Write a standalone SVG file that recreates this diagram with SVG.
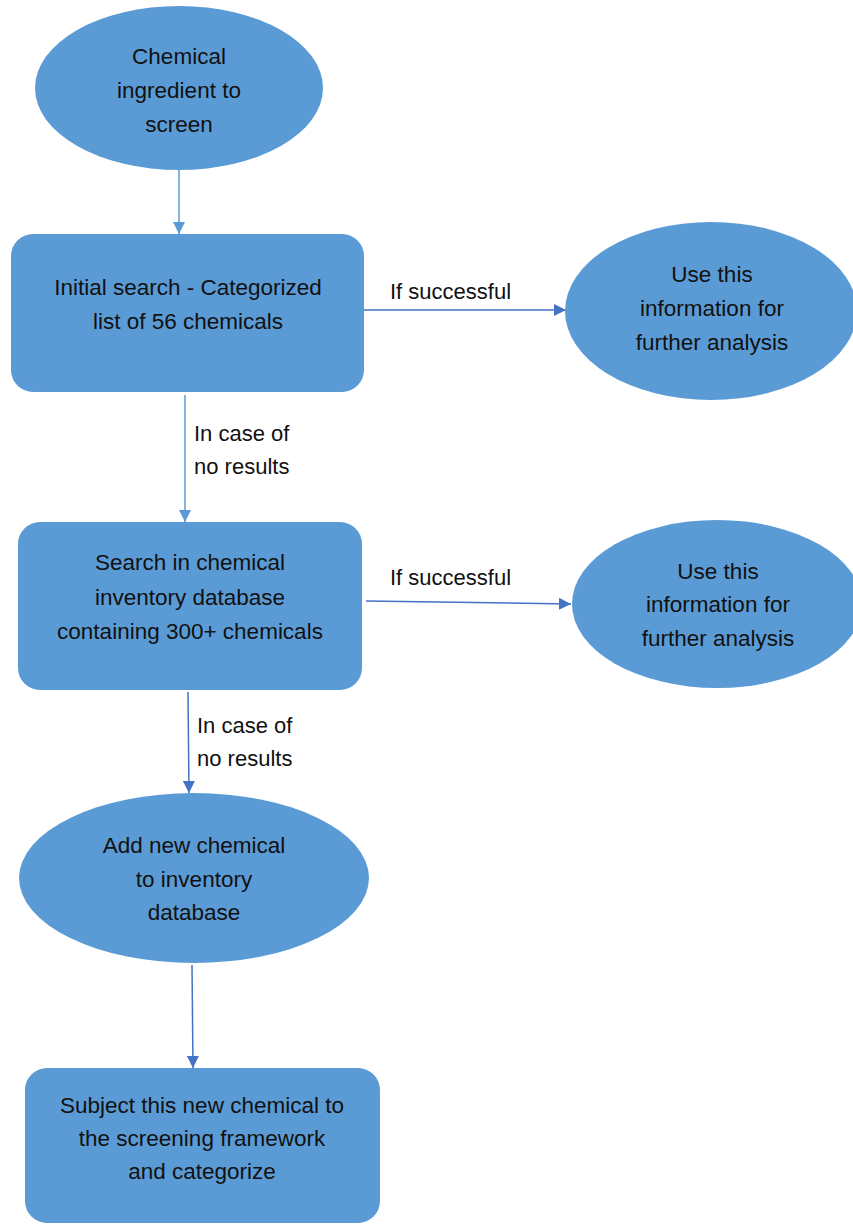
<svg xmlns="http://www.w3.org/2000/svg" width="853" height="1224" viewBox="0 0 853 1224">
<defs>
<style>
.n{fill:#5B9BD5;}
.t{font-family:"Liberation Sans",Arial,sans-serif;font-size:22.5px;fill:#111;text-anchor:middle;}
.l{font-family:"Liberation Sans",Arial,sans-serif;font-size:22px;fill:#111;}
.c1{stroke:#5B9BD5;stroke-width:1.5;fill:none;}
.c2{stroke:#4472C4;stroke-width:1.5;fill:none;}
</style>
<marker id="a1" viewBox="0 0 10 10" refX="10" refY="5" markerWidth="12" markerHeight="12" markerUnits="userSpaceOnUse" orient="auto"><path d="M0,0 L10,5 L0,10 z" fill="#5B9BD5"/></marker>
<marker id="a2" viewBox="0 0 10 10" refX="10" refY="5" markerWidth="12" markerHeight="12" markerUnits="userSpaceOnUse" orient="auto"><path d="M0,0 L10,5 L0,10 z" fill="#4472C4"/></marker>
</defs>
<rect width="853" height="1224" fill="#fff"/>
<g id="connectors">
<line class="c1" x1="179" y1="170" x2="179" y2="234" marker-end="url(#a1)"/>
<line class="c2" x1="364" y1="310" x2="566" y2="310" marker-end="url(#a2)"/>
<line class="c1" x1="185" y1="395" x2="185" y2="522" marker-end="url(#a1)"/>
<line class="c2" x1="366" y1="601" x2="571" y2="604" marker-end="url(#a2)"/>
<line class="c2" x1="188" y1="692" x2="189" y2="793" marker-end="url(#a2)"/>
<line class="c2" x1="192" y1="965" x2="193" y2="1068" marker-end="url(#a2)"/>
<text class="l" x="390" y="299">If successful</text>
<text class="l" x="194" y="441">In case of</text>
<text class="l" x="194" y="474">no results</text>
<text class="l" x="390" y="585">If successful</text>
<text class="l" x="197" y="733">In case of</text>
<text class="l" x="197" y="766">no results</text>
</g>
<g id="start">
<ellipse class="n" cx="179" cy="88" rx="144" ry="82"/>
<text class="t" x="179" y="64">Chemical</text>
<text class="t" x="179" y="98">ingredient to</text>
<text class="t" x="179" y="132">screen</text>
</g>
<g id="initial">
<rect class="n" x="11" y="234" width="353" height="158" rx="22"/>
<text class="t" x="188" y="295">Initial search - Categorized</text>
<text class="t" x="188" y="329">list of 56 chemicals</text>
</g>
<g id="use1">
<ellipse class="n" cx="711" cy="311" rx="146" ry="89"/>
<text class="t" x="712" y="282">Use this</text>
<text class="t" x="712" y="316">information for</text>
<text class="t" x="712" y="350">further analysis</text>
</g>
<g id="search">
<rect class="n" x="18" y="522" width="344" height="168" rx="22"/>
<text class="t" x="190" y="570">Search in chemical</text>
<text class="t" x="190" y="605">inventory database</text>
<text class="t" x="190" y="639">containing 300+ chemicals</text>
</g>
<g id="use2">
<ellipse class="n" cx="717" cy="604" rx="145" ry="84"/>
<text class="t" x="718" y="579">Use this</text>
<text class="t" x="718" y="612">information for</text>
<text class="t" x="718" y="646">further analysis</text>
</g>
<g id="add">
<ellipse class="n" cx="194" cy="878" rx="175" ry="85"/>
<text class="t" x="194" y="853">Add new chemical</text>
<text class="t" x="194" y="887">to inventory</text>
<text class="t" x="194" y="920">database</text>
</g>
<g id="subject">
<rect class="n" x="25" y="1068" width="355" height="155" rx="22"/>
<text class="t" x="202" y="1113">Subject this new chemical to</text>
<text class="t" x="202" y="1146">the screening framework</text>
<text class="t" x="202" y="1179">and categorize</text>
</g>
</svg>
